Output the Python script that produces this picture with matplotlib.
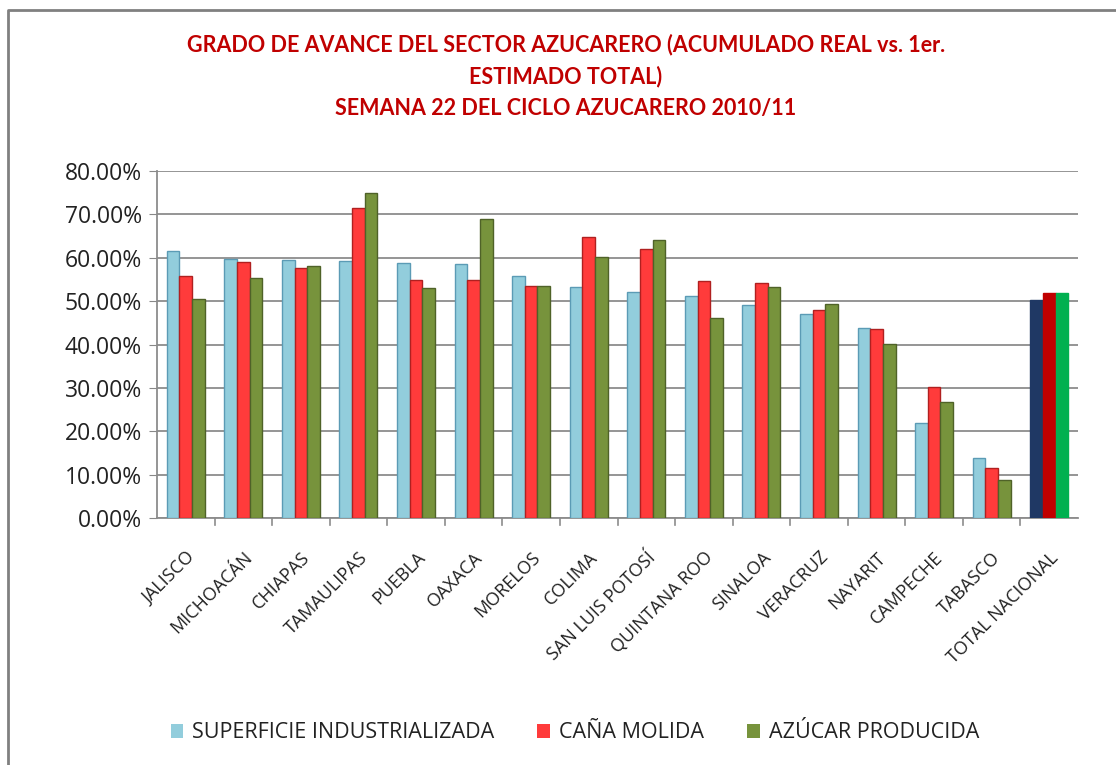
import numpy as np
import matplotlib
matplotlib.use("Agg")
import matplotlib.pyplot as plt
from matplotlib.lines import Line2D
from matplotlib.patches import Patch
from matplotlib.ticker import FuncFormatter

# Data
estados = ["JALISCO", "MICHOACÁN", "CHIAPAS", "TAMAULIPAS", "PUEBLA", "OAXACA",
           "MORELOS", "COLIMA", "SAN LUIS POTOSÍ", "QUINTANA ROO", "SINALOA",
           "VERACRUZ", "NAYARIT", "CAMPECHE", "TABASCO", "TOTAL NACIONAL"]
superficie = [61.5, 59.8, 59.4, 59.2, 58.8, 58.6, 55.8, 53.3, 52.1, 51.2, 49.2,
              47.1, 43.7, 21.8, 13.8, 50.2]
cana = [55.9, 59.0, 57.7, 71.5, 54.9, 54.8, 53.6, 64.8, 62.1, 54.6, 54.2,
        48.0, 43.5, 30.3, 11.5, 51.9]
azucar = [50.4, 55.4, 58.0, 74.9, 53.1, 69.0, 53.4, 60.2, 64.1, 46.2, 53.3,
          49.4, 40.2, 26.8, 8.7, 51.9]
series_names = ["SUPERFICIE INDUSTRIALIZADA", "CAÑA MOLIDA", "AZÚCAR PRODUCIDA"]

title = ("GRADO DE AVANCE DEL SECTOR AZUCARERO (ACUMULADO REAL vs. 1er.\n"
         "ESTIMADO TOTAL)\nSEMANA 22 DEL CICLO AZUCARERO 2010/11")

# Colours: regular states, then the national total
face = ["#92CDDC", "#FF3B3B", "#77933C"]
edge = ["#5B9BB5", "#B02020", "#4F6228"]
total_face = ["#1F3864", "#C00000", "#00B050"]

plt.rcParams["font.family"] = ["Open Sans", "DejaVu Sans"]

fig = plt.figure(figsize=(11.16, 7.65), dpi=100)
ax = fig.add_axes([157 / 1116, 1 - 518 / 765, (1078 - 157) / 1116, (518 - 171) / 765])

x = np.arange(len(estados))
w = 0.22
for i, vals in enumerate([superficie, cana, azucar]):
    fc = [face[i]] * (len(estados) - 1) + [total_face[i]]
    ec = [edge[i]] * (len(estados) - 1) + [total_face[i]]
    ax.bar(x + (i - 1) * w, np.array(vals) / 100, width=w, color=fc,
           edgecolor=ec, linewidth=1.0, zorder=3)

ax.set_xlim(-0.5, len(estados) - 0.5)
ax.set_ylim(0, 0.8)
ax.set_yticks(np.arange(0, 0.81, 0.1))
ax.yaxis.set_major_formatter(FuncFormatter(lambda v, p: f"{v * 100:.2f}%"))
ax.tick_params(axis="y", labelsize=16.5, colors="#888888", labelcolor="#222222",
               length=6, pad=5)
ax.grid(axis="y", color="#8C8C8C", linewidth=1.3, zorder=0)

# category labels and boundary ticks
ax.set_xticks(x)
ax.set_xticklabels(estados, rotation=45, ha="right", va="top",
                   rotation_mode="anchor", fontsize=13, color="#222222")
ax.tick_params(axis="x", length=0, pad=22)
for b in np.arange(0.5, len(estados) - 0.5, 1):
    ax.plot([b, b], [0, -0.016], color="#8C8C8C", lw=1.2, clip_on=False)

for s in ["top", "right"]:
    ax.spines[s].set_visible(False)
ax.spines["left"].set_color("#8C8C8C")
ax.spines["bottom"].set_color("#8C8C8C")
ax.spines["left"].set_linewidth(1.3)
ax.spines["bottom"].set_linewidth(1.3)

fig.text(0.507, 1 - 76 / 765, title, ha="center", va="center", color="#C00000",
         fontsize=15.5, fontweight="bold", linespacing=1.6,
         family=["Lato", "DejaVu Sans"])

handles = [Patch(facecolor=face[i], edgecolor="none") for i in range(3)]
fig.legend(handles, series_names, loc="center", bbox_to_anchor=(0.515, 1 - 733 / 765),
           ncol=3, frameon=False, fontsize=15.5, handlelength=0.6, handleheight=0.6,
           handletextpad=0.4, columnspacing=2.0, labelcolor="#222222")

# chart border (top and left edges visible)
fig.add_artist(Line2D([8 / 1116, 8 / 1116, 1], [0, 1 - 10 / 765, 1 - 10 / 765],
                      transform=fig.transFigure, color="#808080", lw=2.0))

fig.savefig("out.png", dpi=100, facecolor="white")
